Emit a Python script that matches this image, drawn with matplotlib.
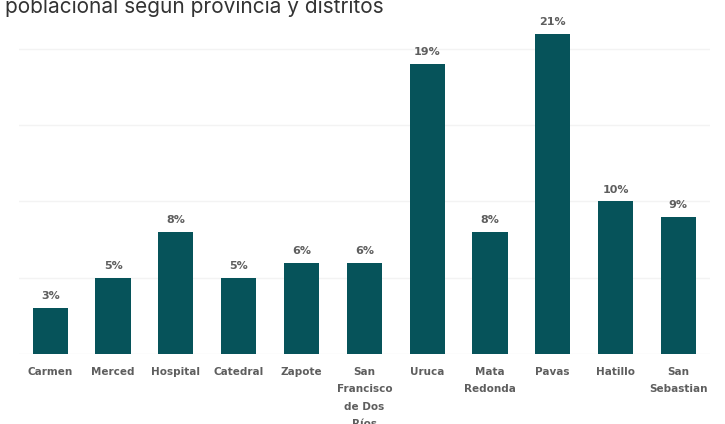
import matplotlib.pyplot as plt

# share of population by district
districts = ['Carmen', 'Merced', 'Hospital', 'Catedral', 'Zapote',
             'San\nFrancisco\nde Dos\nRíos', 'Uruca', 'Mata\nRedonda',
             'Pavas', 'Hatillo', 'San\nSebastian']
shares = [3, 5, 8, 5, 6, 6, 19, 8, 21, 10, 9]
gridlines = [0, 5, 10, 15, 20]

bar_colour = '#06535a'
text_grey = '#5e5e5e'

fig = plt.figure(figsize=(7.25, 4.24), dpi=100)
ax = fig.add_axes([0.026, 0.165, 0.953, 0.788])

x = range(len(districts))
bars = ax.bar(x, shares, width=0.56, color=bar_colour, zorder=3)

for b, v in zip(bars, shares):
    ax.annotate(f'{v}%', (b.get_x() + b.get_width() / 2, v),
                xytext=(0, 5), textcoords='offset points',
                ha='center', va='bottom', fontsize=8, fontweight='bold',
                color=text_grey)

ax.set_xlim(-0.5, len(districts) - 0.5)
ax.set_ylim(0, 21.9)
ax.set_yticks(gridlines)
ax.yaxis.grid(True, color='#f3f3f3', lw=1, zorder=0)
ax.tick_params(axis='y', left=False, labelleft=False)
ax.set_xticks(list(x))
ax.set_xticklabels(districts, fontsize=7.5, color=text_grey,
                   fontweight='bold', linespacing=1.95)
ax.tick_params(axis='x', length=0, pad=9)
for s in ax.spines.values():
    s.set_visible(False)

fig.text(0.007, 1 - 13 / 424, 'poblacional segun provincia y distritos',
         family=['Inter', 'DejaVu Sans'], fontsize=15, color='#333333',
         ha='left', va='baseline')

fig.savefig('out.png', dpi=100)
